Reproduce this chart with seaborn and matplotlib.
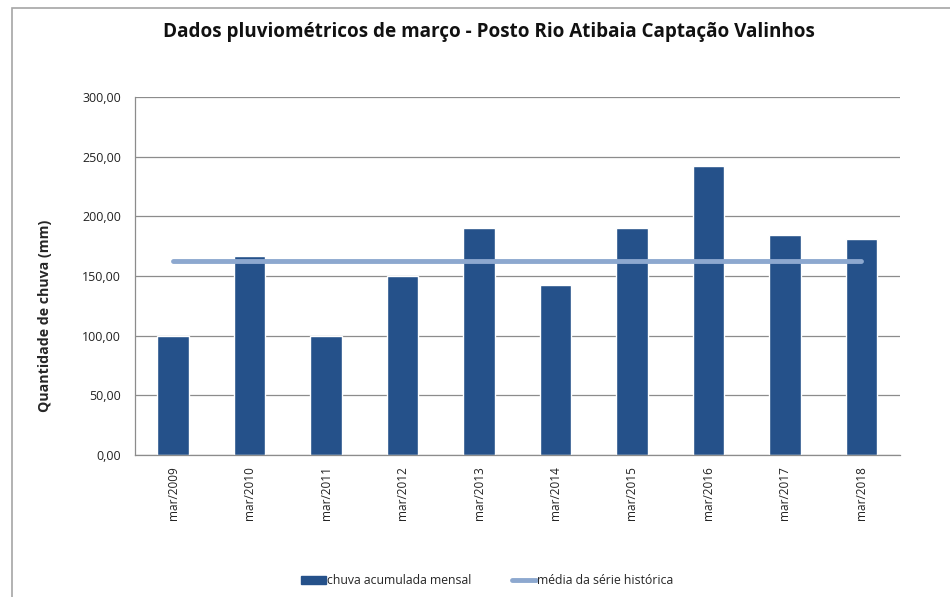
import matplotlib
matplotlib.use("Agg")
import matplotlib.pyplot as plt
import matplotlib.patches as mpatches
from matplotlib.lines import Line2D
from matplotlib.ticker import FuncFormatter
import seaborn as sns

# dados
meses = ["mar/2009", "mar/2010", "mar/2011", "mar/2012", "mar/2013",
         "mar/2014", "mar/2015", "mar/2016", "mar/2017", "mar/2018"]
chuva_mensal = [99.5, 166.8, 99.5, 150.2, 190.3, 142.4, 190.3, 242.0, 184.5, 181.0]
media_historica = 162.5

cor_barra = "#25518A"
cor_media = "#8DA8CF"

sns.set_style("white")
plt.rcParams["font.family"] = ["Open Sans", "DejaVu Sans"]

fig = plt.figure(figsize=(9.5, 5.97), dpi=100)
ax = fig.add_axes([0.142, 0.2379, 0.805, 0.5996])

sns.barplot(x=meses, y=chuva_mensal, color=cor_barra, width=0.41, ax=ax,
            saturation=1, zorder=2)
sns.lineplot(x=meses, y=[media_historica] * len(meses), color=cor_media,
             linewidth=3.5, ax=ax, zorder=3, solid_capstyle="round")

ax.set_ylim(0, 300)
ax.set_yticks(range(0, 301, 50))
ax.yaxis.set_major_formatter(FuncFormatter(lambda v, p: f"{v:.2f}".replace(".", ",")))
ax.set_xlim(-0.5, len(meses) - 0.5)
ax.grid(axis="y", color="#8C8C8C", linewidth=0.9, zorder=0)
ax.set_axisbelow(True)
for s in ["top", "right"]:
    ax.spines[s].set_visible(False)
for s in ["left", "bottom"]:
    ax.spines[s].set_color("#8C8C8C")
    ax.spines[s].set_linewidth(0.9)

ax.tick_params(axis="y", labelsize=9, colors="#222222", length=0, pad=10)
ax.tick_params(axis="x", labelsize=8.5, colors="#222222", length=0, pad=8, rotation=90)
ax.set_xlabel("")
ax.set_ylabel("Quantidade de chuva (mm)", fontsize=10.2, fontweight="bold")
# rótulo do eixo y um pouco abaixo do centro, como no original
ax.yaxis.set_label_coords(-0.108, 0.39)

fig.text(0.515, 0.946, "Dados pluviométricos de março - Posto Rio Atibaia Captação Valinhos",
         ha="center", va="center", fontsize=13.6, fontweight="bold", color="#111111")

handles = [mpatches.Patch(color=cor_barra),
           Line2D([0], [0], color=cor_media, linewidth=3.5, solid_capstyle="round")]
fig.legend(handles, ["chuva acumulada mensal", "média da série histórica"],
           loc="center", bbox_to_anchor=(0.513, 0.027), ncol=2, frameon=False,
           fontsize=8.8, handlelength=2.0, handletextpad=0.1, columnspacing=3.3)

# moldura da área do gráfico
fig.patches.append(mpatches.Rectangle((12 / 950, -0.1), 2, 1 - 8 / 597 + 0.1,
                                      transform=fig.transFigure, fill=False,
                                      edgecolor="#A6A6A6", linewidth=1.2))

fig.savefig("out.png", dpi=100)
